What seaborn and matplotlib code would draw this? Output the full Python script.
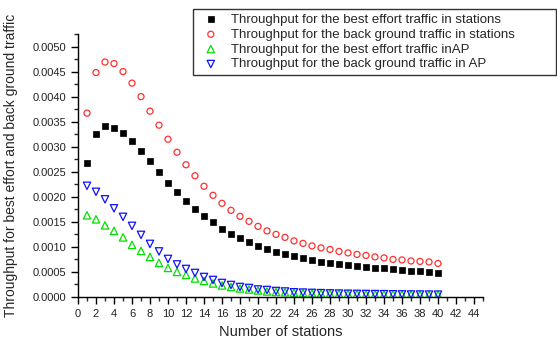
import numpy as np
import pandas as pd
import matplotlib
matplotlib.use("Agg")
import matplotlib.pyplot as plt
import seaborn as sns
from matplotlib.ticker import MultipleLocator, FormatStrFormatter

# --- Data ---
stations = list(range(1, 41))

be_stations = [0.00267, 0.00326, 0.00341, 0.00338, 0.00327, 0.00311, 0.00292, 0.00271,
               0.00250, 0.00228, 0.00209, 0.00191, 0.00175, 0.00161, 0.00149, 0.00135,
               0.00125, 0.00117, 0.00109, 0.00101, 0.00095, 0.00090, 0.00086, 0.00081,
               0.00077, 0.00074, 0.00070, 0.00068, 0.00066, 0.00064, 0.00061, 0.00060,
               0.00058, 0.00057, 0.00056, 0.00054, 0.00052, 0.00051, 0.00050, 0.00048]

bg_stations = [0.00367, 0.00448, 0.00469, 0.00466, 0.00450, 0.00427, 0.00400, 0.00371,
               0.00343, 0.00315, 0.00289, 0.00264, 0.00242, 0.00221, 0.00203, 0.00187,
               0.00173, 0.00161, 0.00151, 0.00141, 0.00132, 0.00125, 0.00119, 0.00112,
               0.00107, 0.00102, 0.00098, 0.00095, 0.00091, 0.00088, 0.00085, 0.00083,
               0.00080, 0.00078, 0.00075, 0.00074, 0.00072, 0.00071, 0.00070, 0.00067]

be_ap = [0.00163, 0.00155, 0.00143, 0.00132, 0.00119, 0.00104, 0.00092, 0.00080,
         0.00068, 0.00058, 0.00050, 0.00044, 0.00037, 0.00032, 0.00027, 0.00023,
         0.00020, 0.00017, 0.00015, 0.00013, 0.00011, 0.00010, 0.000094, 0.000086,
         0.000080, 0.000076, 0.000072, 0.000068, 0.000065, 0.000062, 0.000060, 0.000058,
         0.000056, 0.000054, 0.000052, 0.000050, 0.000048, 0.000047, 0.000046, 0.000045]

bg_ap = [0.00222, 0.00210, 0.00195, 0.00177, 0.00160, 0.00142, 0.00124, 0.00106,
         0.00091, 0.00076, 0.00065, 0.00056, 0.00048, 0.00040, 0.00034, 0.00028,
         0.00024, 0.00020, 0.00018, 0.00015, 0.00014, 0.00012, 0.00011, 0.000094,
         0.000088, 0.000082, 0.000077, 0.000072, 0.000068, 0.000065, 0.000062, 0.000060,
         0.000058, 0.000056, 0.000054, 0.000052, 0.000050, 0.000049, 0.000048, 0.000047]

labels = ["Throughput for the best effort traffic in stations",
          "Throughput for the back ground traffic in stations",
          "Throughput for the best effort traffic inAP",
          "Throughput for the back ground traffic in AP"]

sns.set_style("ticks")
plt.rcParams["font.family"] = ["Liberation Sans", "DejaVu Sans"]

fig = plt.figure(figsize=(5.57, 3.40), dpi=100)
ax = fig.add_axes([78 / 557, 1 - 297 / 340, 405 / 557, 263 / 340])

# filled black squares
sns.scatterplot(x=stations, y=be_stations, ax=ax, marker="s", s=18,
                color="black", edgecolor="black", linewidth=0.5, label=labels[0])
# open red circles
sns.scatterplot(x=stations, y=bg_stations, ax=ax, marker="o", s=19,
                color="#ff3030", facecolor="none", edgecolor="#ff3030",
                linewidth=0.9, label=labels[1])
# open green up-triangles
sns.scatterplot(x=stations, y=be_ap, ax=ax, marker="^", s=28,
                color="#00e000", facecolor="none", edgecolor="#00e000",
                linewidth=0.9, label=labels[2])
# open blue down-triangles
sns.scatterplot(x=stations, y=bg_ap, ax=ax, marker="v", s=28,
                color="#1010ff", facecolor="none", edgecolor="#1010ff",
                linewidth=0.9, label=labels[3])

ax.set_xlim(0, 45)
ax.set_ylim(0, 0.00525)
ax.xaxis.set_minor_locator(MultipleLocator(1))
ax.yaxis.set_major_locator(MultipleLocator(0.0005))
ax.yaxis.set_minor_locator(MultipleLocator(0.00025))
ax.yaxis.set_major_formatter(FormatStrFormatter("%.4f"))
ax.set_xticks(range(0, 45, 2))
ax.tick_params(which="major", length=5, width=1, labelsize=8, colors="black")
ax.tick_params(which="minor", length=3, width=1)
for t in ax.get_xticklabels() + ax.get_yticklabels():
    t.set_color("#222222")

sns.despine(ax=ax)
for sp in ["left", "bottom"]:
    ax.spines[sp].set_linewidth(1)
    ax.spines[sp].set_color("black")

ax.set_xlabel("Number of stations", fontsize=10.5)
ax.set_ylabel("Throughput for best effort and back ground traffic", fontsize=10)
ax.xaxis.set_label_coords(0.5, -0.105)
ax.yaxis.set_label_coords(-0.148, 0.5)

leg = ax.legend(loc="upper left", bbox_to_anchor=(193 / 557, 1 - 74 / 340, 363 / 557, 65 / 340),
                bbox_transform=fig.transFigure, mode="expand", fontsize=9.5,
                frameon=True, fancybox=False, shadow=False, borderpad=0.35,
                labelspacing=0.2, handlelength=2.0, handletextpad=0.5,
                borderaxespad=0, markerscale=1.0)
leg.get_frame().set_edgecolor("black")
leg.get_frame().set_linewidth(1)

fig.savefig("out.png", dpi=100)
